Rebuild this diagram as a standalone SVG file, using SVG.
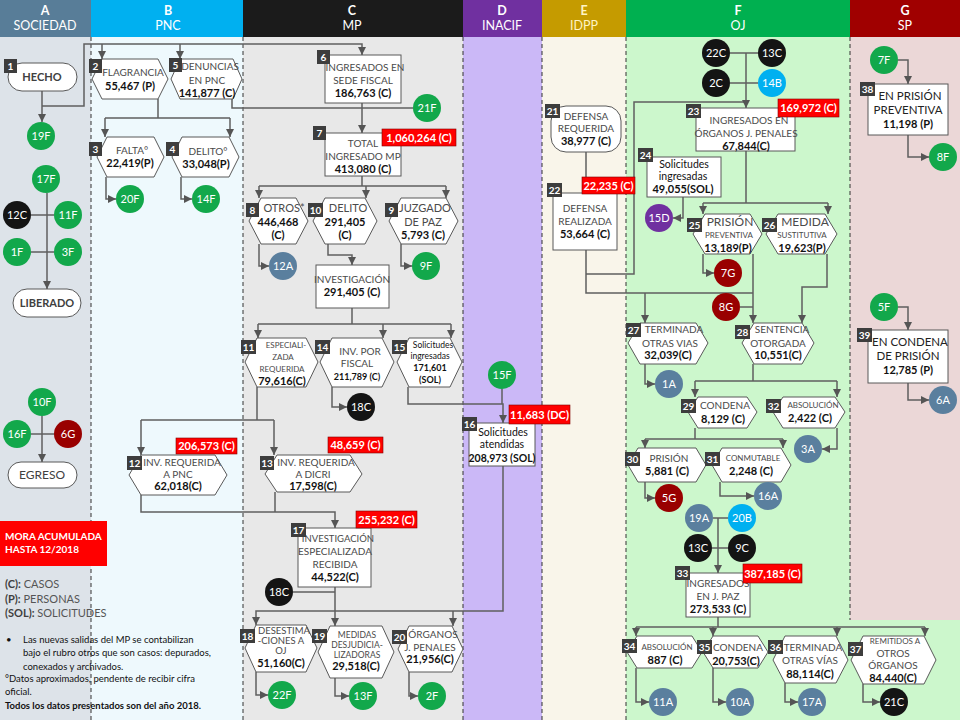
<svg xmlns="http://www.w3.org/2000/svg" width="960" height="720" viewBox="0 0 960 720">
<defs>
<marker id="a" viewBox="0 0 8 8" refX="8" refY="4" markerWidth="8" markerHeight="8" markerUnits="userSpaceOnUse" orient="auto"><path d="M0,0 L8,4 L0,8 z" fill="#555"/></marker>
<style>
text{font-family:Lato,"Liberation Sans",sans-serif}
.h{font-size:12.5px;fill:#fff;text-anchor:middle}
.hb{font-weight:bold}
.l{font-size:10px;fill:#4a4a4a;text-anchor:middle}
.s{font-size:8px}
.m{font-size:8.5px}
.g{font-size:12px}
.k{fill:#111}
.n{font-size:11px;font-weight:bold;fill:#111;text-anchor:middle}
.sh{fill:#fff;stroke:#595959;stroke-width:1}
.cn path{fill:none;stroke:#5f5f5f;stroke-width:1.5}
.ar{marker-end:url(#a)}
.bd rect{fill:#3d3d3d}
.bd text{font-size:10px;font-weight:bold;fill:#fff;text-anchor:middle}
.ci text{font-size:11px;fill:#fff;text-anchor:middle}
.gr{fill:#12a84b}.bk{fill:#141414}.bl{fill:#5a7f9e}.rd{fill:#990000}.cy{fill:#00b0f0}.pu{fill:#7030a0}
.rl rect{fill:#ff0000;stroke:#800000;stroke-width:0.6}
.rl text{font-size:11px;font-weight:bold;fill:#fff;text-anchor:middle}
.dl{stroke:#333;stroke-width:1;stroke-dasharray:4,3}
.lg{font-size:11px;fill:#555}
.ft{font-size:9.5px;fill:#111}
</style>
</defs>
<!-- lane backgrounds -->
<rect x="0" y="0" width="91" height="720" fill="#dde3e9"/>
<rect x="91" y="0" width="152" height="720" fill="#eef9fd"/>
<rect x="243" y="0" width="220" height="720" fill="#e8e8e8"/>
<rect x="463" y="0" width="79" height="720" fill="#cbb8f7"/>
<rect x="542" y="0" width="84" height="720" fill="#f9f5ea"/>
<rect x="626" y="0" width="334" height="720" fill="#ccf7cc"/>
<rect x="850" y="0" width="110" height="620" fill="#ebd7d7"/>
<!-- headers -->
<rect x="0" y="0" width="91" height="37" fill="#587d98"/>
<rect x="91" y="0" width="152" height="37" fill="#00b0f0"/>
<rect x="243" y="0" width="220" height="37" fill="#1b1b1b"/>
<rect x="463" y="0" width="79" height="37" fill="#7030a0"/>
<rect x="542" y="0" width="84" height="37" fill="#c59b00"/>
<rect x="626" y="0" width="224" height="37" fill="#00b050"/>
<rect x="850" y="0" width="110" height="37" fill="#a00000"/>
<g id="headers">
<text class="h hb" x="45" y="15">A</text><text class="h" x="45" y="30">SOCIEDAD</text>
<text class="h hb" x="168" y="15">B</text><text class="h" x="168" y="30">PNC</text>
<text class="h hb" x="352" y="15">C</text><text class="h" x="352" y="30">MP</text>
<text class="h hb" x="502" y="15">D</text><text class="h" x="502" y="30">INACIF</text>
<text class="h hb" x="584" y="15" style="fill:#fff4c4">E</text><text class="h" x="584" y="30" style="fill:#fff4c4">IDPP</text>
<text class="h hb" x="738" y="15">F</text><text class="h" x="738" y="30">OJ</text>
<text class="h hb" x="905" y="15">G</text><text class="h" x="905" y="30">SP</text>
</g>
<!-- dashed lane separators -->
<g>
<line class="dl" x1="91" y1="37" x2="91" y2="720"/>
<line class="dl" x1="243" y1="37" x2="243" y2="720"/>
<line class="dl" x1="463" y1="37" x2="463" y2="720"/>
<line class="dl" x1="542" y1="37" x2="542" y2="720"/>
<line class="dl" x1="626" y1="37" x2="626" y2="720"/>
<line class="dl" x1="850" y1="37" x2="850" y2="620"/>
</g>
<!-- connectors -->
<g id="connectors" class="cn">
<path class="ar" d="M42,91 V122"/>
<path class="ar" d="M42,106 H84 V44 H362 V55"/>
<path class="ar" d="M102,44 V59"/>
<path class="ar" d="M180,44 V59"/>
<path d="M158,99 V118 M105,118 H230"/>
<path class="ar" d="M105,118 V137"/>
<path class="ar" d="M230,118 V137"/>
<path class="ar" d="M106,177 V199 H116"/>
<path class="ar" d="M181,177 V199 H192"/>
<path d="M232,99 V108 H362 M413,108 H362"/>
<path class="ar" d="M362,103 V133"/>
<path d="M362,176 V186 M259,186 H446"/>
<path class="ar" d="M259,186 V198"/>
<path class="ar" d="M366,186 V198"/>
<path class="ar" d="M446,186 V198"/>
<path class="ar" d="M259,244 V266 H269"/>
<path class="ar" d="M401,244 V266 H412"/>
<path class="ar" d="M328,244 V255 H352 V265"/>
<path d="M352,308 V324 M258,324 H451"/>
<path class="ar" d="M258,324 V338"/>
<path class="ar" d="M383,324 V338"/>
<path class="ar" d="M451,324 V338"/>
<path class="ar" d="M332,387 V407 H347"/>
<path class="ar" d="M408,387 V404 H503 V423"/>
<path d="M502,389 V404"/>
<path d="M257,387 V420 M141,420 H274"/>
<path class="ar" d="M141,420 V455"/>
<path class="ar" d="M274,420 V455"/>
<path class="ar" d="M141,495 V512 H335 V528"/>
<path d="M275,492 V512"/>
<path class="ar" d="M335,587 V626"/>
<path d="M293,592 H335"/>
<path class="ar" d="M503,466 V611 H256 V625"/>
<path class="ar" d="M453,611 V626"/>
<path class="ar" d="M256,672 V695 H268"/>
<path class="ar" d="M335,678 V696 H349"/>
<path class="ar" d="M409,672 V696 H418"/>
<path d="M586,152 V193"/>
<path d="M586,250 V293 H753 M586,274 H634 V102 H746"/>
<path d="M730,53 H758 M730,83 H758"/>
<path class="ar" d="M746,53 V108"/>
<path d="M746,151 V203 M703,203 H828"/>
<path class="ar" d="M703,203 V214"/>
<path class="ar" d="M828,203 V214"/>
<path class="ar" d="M683,197 V218 H673"/>
<path class="ar" d="M703,254 V273 H714"/>
<path class="ar" d="M753,254 V323"/>
<path d="M740,307 H753"/>
<path class="ar" d="M645,293 V323"/>
<path class="ar" d="M827,254 V287 H802 V323"/>
<path class="ar" d="M645,364 V384 H655"/>
<path d="M753,364 V381 M695,381 H837"/>
<path class="ar" d="M695,381 V397"/>
<path class="ar" d="M837,381 V397"/>
<path class="ar" d="M837,428 V449 H822"/>
<path d="M695,428 V439 M645,439 H783"/>
<path class="ar" d="M645,439 V448"/>
<path class="ar" d="M783,439 V448"/>
<path class="ar" d="M645,482 V498 H655"/>
<path class="ar" d="M720,482 V496 H754"/>
<path d="M713,518 H728 M712,548 H728"/>
<path class="ar" d="M718,518 V573"/>
<path d="M718,617 V627 M636,627 H925"/>
<path class="ar" d="M636,627 V636"/>
<path class="ar" d="M713,627 V636"/>
<path class="ar" d="M837,627 V636"/>
<path class="ar" d="M925,627 V636"/>
<path class="ar" d="M636,668 V702 H649"/>
<path class="ar" d="M713,668 V702 H726"/>
<path class="ar" d="M785,683 V702 H798"/>
<path class="ar" d="M863,684 V702 H880"/>
<path class="ar" d="M898,60 H908 V84"/>
<path class="ar" d="M908,135 V157 H929"/>
<path class="ar" d="M898,307 H908 V330"/>
<path class="ar" d="M908,383 V400 H929"/>
<path class="ar" d="M47,193 V289"/>
<path d="M31,215 H54 M31,252 H54"/>
<path class="ar" d="M42,416 V462"/>
<path d="M31,434 H54"/>
</g>
<!-- nodes -->
<g id="n1"><rect class="sh" x="8" y="63" width="69" height="28" rx="14"/><text class="l hb" x="42" y="81" style="font-size:11px;fill:#404040">HECHO</text></g>
<g id="nLib"><rect class="sh" x="13" y="289" width="68" height="28" rx="14"/><text class="l hb" x="47" y="307" style="font-size:11px;fill:#404040">LIBERADO</text></g>
<g id="nEgr"><rect class="sh" x="8" y="462" width="69" height="26" rx="13"/><text class="l g" x="42" y="479" style="fill:#404040">EGRESO</text></g>
<g id="n2"><polygon class="sh" points="92,79 102,59 158,59 168,79 158,99 102,99"/><text class="l" x="133" y="76">FLAGRANCIA</text><text class="n" x="130" y="90">55,467 (P)</text></g>
<g id="n5"><polygon class="sh" points="171,79 180,59 233,59 242,79 233,99 180,99"/><text class="l" x="210" y="70">DENUNCIAS</text><text class="l" x="207" y="84">EN PNC</text><text class="n" x="207" y="97">141,877 (C)</text></g>
<g id="n3"><polygon class="sh" points="97,157 107,137 154,137 164,157 154,177 107,177"/><text class="l" x="132" y="154">FALTA°</text><text class="n" x="130" y="167">22,419(P)</text></g>
<g id="n4"><polygon class="sh" points="172,157 182,137 229,137 239,157 229,177 182,177"/><text class="l" x="208" y="155">DELITO°</text><text class="n" x="206" y="168">33,048(P)</text></g>
<g id="n6"><rect class="sh" x="325" y="55" width="76" height="48"/><text class="l" x="365" y="71">INGRESADOS EN</text><text class="l" x="363" y="84">SEDE FISCAL</text><text class="n" x="363" y="97">186,763 (C)</text></g>
<g id="n7"><rect class="sh" x="325" y="133" width="76" height="43"/><text class="l" x="363" y="147">TOTAL</text><text class="l" x="363" y="160">INGRESADO MP</text><text class="n" x="363" y="173">413,080 (C)</text></g>
<g id="n8"><polygon class="sh" points="249,221 261,198 296,198 308,221 296,244 261,244"/><text class="l" x="284" y="212" style="font-size:11px">OTROS*</text><text class="n" x="278" y="226">446,468</text><text class="n" x="278" y="239">(C)</text></g>
<g id="n10"><polygon class="sh" points="313,221 325,198 365,198 377,221 365,244 325,244"/><text class="l" x="348" y="212" style="font-size:11px">DELITO</text><text class="n" x="345" y="226">291,405</text><text class="n" x="345" y="239">(C)</text></g>
<g id="n9"><polygon class="sh" points="389,221 401,198 446,198 458,221 446,244 401,244"/><text class="l" x="425" y="212" style="font-size:11px">JUZGADO</text><text class="l" x="423" y="226" style="font-size:11px">DE PAZ</text><text class="n" x="423" y="239">5,793 (C)</text></g>
<g id="nInv"><rect class="sh" x="316" y="265" width="73" height="43"/><text class="l" x="352" y="283">INVESTIGACIÓN</text><text class="n" x="352" y="296">291,405 (C)</text></g>
<g id="n11"><polygon class="sh" points="245,362 257,338 306,338 318,362 306,387 257,387"/><text class="l s" x="286" y="348">ESPECIALI-</text><text class="l s" x="283" y="360">ZADA</text><text class="l s" x="282" y="372">REQUERIDA</text><text class="n" x="282" y="385">79,616(C)</text></g>
<g id="n14"><polygon class="sh" points="320,362 332,338 382,338 394,362 382,387 332,387"/><text class="l" x="360" y="355">INV.  POR</text><text class="l" x="357" y="367">FISCAL</text><text class="n" x="357" y="380" style="font-size:9px">211,789 (C)</text></g>
<g id="n15"><polygon class="sh" points="397,362 409,338 450,338 462,362 450,387 409,387"/><text class="l m k" x="433" y="348">Solicitudes</text><text class="l m k" x="430" y="359">ingresadas</text><text class="n" x="430" y="371" style="font-size:9px">171,601</text><text class="n" x="430" y="383" style="font-size:9px">(SOL)</text></g>
<g id="n12"><polygon class="sh" points="129,475 141,455 215,455 227,475 215,495 141,495"/><text class="l" x="182" y="466">INV. REQUERIDA</text><text class="l" x="178" y="478">A PNC</text><text class="n" x="178" y="490">62,018(C)</text></g>
<g id="n13"><polygon class="sh" points="265,474 277,455 350,455 362,474 350,492 277,492"/><text class="l" x="316" y="466">INV. REQUERIDA</text><text class="l" x="313" y="478">A DICRI</text><text class="n" x="313" y="490">17,598(C)</text></g>
<g id="n17"><rect class="sh" x="298" y="528" width="73" height="59"/><text class="l" x="338" y="542" style="font-size:9.5px">INVESTIGACIÓN</text><text class="l" x="335" y="555">ESPECIALIZADA</text><text class="l" x="335" y="568">RECIBIDA</text><text class="n" x="335" y="581">44,522(C)</text></g>
<g id="n16"><rect class="sh" x="469" y="423" width="66" height="43"/><text class="l k" x="503" y="436" style="font-size:10.5px">Solicitudes</text><text class="l k" x="502" y="448" style="font-size:10.5px">atendidas</text><text class="n" x="502" y="462" style="font-size:10.5px">208,973 (SOL)</text></g>
<g id="n18"><polygon class="sh" points="245,648 256,625 306,625 317,648 306,672 256,672"/><text class="l" x="284" y="634" style="font-size:9.5px">DESESTIMA</text><text class="l" x="281" y="644" style="font-size:9.5px">-CIONES A</text><text class="l" x="281" y="654" style="font-size:9.5px">OJ</text><text class="n" x="281" y="667">51,160(C)</text></g>
<g id="n19"><polygon class="sh" points="318,652 330,626 382,626 394,652 382,678 330,678"/><text class="l m" x="357" y="638">MEDIDAS</text><text class="l m" x="357" y="648">DESJUDICIA-</text><text class="l m" x="357" y="658">LIZADORAS</text><text class="n" x="356" y="670">29,518(C)</text></g>
<g id="n20"><polygon class="sh" points="398,649 409,626 452,626 463,649 452,672 409,672"/><text class="l" x="433" y="638">ÓRGANOS</text><text class="l" x="430" y="651">J. PENALES</text><text class="n" x="430" y="663">21,956(C)</text></g>
<g id="n21"><rect class="sh" x="551" y="106" width="70" height="46" rx="15"/><text class="l" x="586" y="120">DEFENSA</text><text class="l" x="586" y="132">REQUERIDA</text><text class="n" x="586" y="145">38,977 (C)</text></g>
<g id="n22"><rect class="sh" x="553" y="193" width="64" height="57"/><text class="l" x="585" y="212">DEFENSA</text><text class="l" x="585" y="225">REALIZADA</text><text class="n" x="585" y="238">53,664 (C)</text></g>
<g id="n23"><rect class="sh" x="696" y="108" width="99" height="43"/><text class="l" x="749" y="124">INGRESADOS EN</text><text class="l" x="746" y="137">ÓRGANOS J. PENALES</text><text class="n" x="746" y="150">67,844(C)</text></g>
<g id="n24"><rect class="sh" x="647" y="157" width="74" height="40"/><text class="l k" x="684" y="168" style="font-size:10.5px">Solicitudes</text><text class="l k" x="683" y="180" style="font-size:10.5px">ingresadas</text><text class="n" x="683" y="193">49,055(SOL)</text></g>
<g id="n25"><polygon class="sh" points="693,234 705,214 750,214 762,234 750,254 705,254"/><text class="l g" x="730" y="226">PRISIÓN</text><text class="l s" x="729" y="238">PREVENTIVA</text><text class="n" x="728" y="252">13,189(P)</text></g>
<g id="n26"><polygon class="sh" points="766,234 778,214 825,214 837,234 825,254 778,254"/><text class="l g" x="805" y="226">MEDIDA</text><text class="l s" x="802" y="238">SUSTITUTIVA</text><text class="n" x="802" y="252">19,623(P)</text></g>
<g id="n27"><polygon class="sh" points="628,343 640,323 696,323 708,343 696,364 640,364"/><text class="l" x="674" y="333">TERMINADA</text><text class="l" x="670" y="347">OTRAS VIAS</text><text class="n" x="668" y="359">32,039(C)</text></g>
<g id="n28"><polygon class="sh" points="742,343 754,323 802,323 814,343 802,364 754,364"/><text class="l" x="782" y="333">SENTENCIA</text><text class="l" x="778" y="347">OTORGADA</text><text class="n" x="778" y="359">10,551(C)</text></g>
<g id="n29"><polygon class="sh" points="688,412 698,397 747,397 757,412 747,428 698,428"/><text class="l" x="725" y="409">CONDENA</text><text class="n" x="723" y="423">8,129 (C)</text></g>
<g id="n32"><polygon class="sh" points="773,412 783,397 835,397 845,412 835,428 783,428"/><text class="l s" x="813" y="408">ABSOLUCIÓN</text><text class="n" x="810" y="422">2,422 (C)</text></g>
<g id="n30"><polygon class="sh" points="628,465 638,448 696,448 706,465 696,482 638,482"/><text class="l" x="669" y="462">PRISIÓN</text><text class="n" x="667" y="475">5,881 (C)</text></g>
<g id="n31"><polygon class="sh" points="712,465 722,448 781,448 791,465 781,482 722,482"/><text class="l s" x="753" y="461">CONMUTABLE</text><text class="n" x="751" y="475">2,248 (C)</text></g>
<g id="n33"><rect class="sh" x="686" y="573" width="64" height="44"/><text class="l" x="718" y="587">INGRESADOS</text><text class="l" x="718" y="600">EN J. PAZ</text><text class="n" x="718" y="613">273,533 (C)</text></g>
<g id="n34"><polygon class="sh" points="627,652 637,636 692,636 702,652 692,668 637,668"/><text class="l s" x="667" y="650">ABSOLUCIÓN</text><text class="n" x="665" y="664">887 (C)</text></g>
<g id="n35"><polygon class="sh" points="703,652 713,636 758,636 768,652 758,668 713,668"/><text class="l" x="738" y="651">CONDENA</text><text class="n" x="736" y="665">20,753(C)</text></g>
<g id="n36"><polygon class="sh" points="773,660 785,636 836,636 848,660 836,683 785,683"/><text class="l" x="813" y="651">TERMINADA</text><text class="l" x="810" y="664">OTRAS VÍAS</text><text class="n" x="810" y="678">88,114(C)</text></g>
<g id="n37"><polygon class="sh" points="851,660 863,636 924,636 936,660 924,684 863,684"/><text class="l s" x="895" y="644">REMITIDOS A</text><text class="l" x="893" y="657">OTROS</text><text class="l" x="893" y="669">ÓRGANOS</text><text class="n" x="893" y="682">84,440(C)</text></g>
<g id="n38"><rect class="sh" x="868" y="84" width="80" height="51"/><text class="l" x="910" y="100" style="font-size:11.5px;fill:#222">EN PRISIÓN</text><text class="l" x="908" y="114" style="font-size:11.5px;fill:#222">PREVENTIVA</text><text class="n" x="908" y="128">11,198 (P)</text></g>
<g id="n39"><rect class="sh" x="868" y="330" width="80" height="53"/><text class="l" x="910" y="346" style="font-size:11.5px;fill:#222">EN CONDENA</text><text class="l" x="908" y="360" style="font-size:11.5px;fill:#222">DE PRISIÓN</text><text class="n" x="908" y="374">12,785 (P)</text></g>
<!-- circles -->
<g id="circles" class="ci">
<g id="c19F"><circle class="gr" cx="41" cy="136" r="14"/><text x="41" y="140">19F</text></g>
<g id="c17F"><circle class="gr" cx="46" cy="179" r="14"/><text x="46" y="183">17F</text></g>
<g id="c12C"><circle class="bk" cx="17" cy="215" r="14"/><text x="17" y="219">12C</text></g>
<g id="c11F"><circle class="gr" cx="68" cy="215" r="14"/><text x="68" y="219">11F</text></g>
<g id="c1F"><circle class="gr" cx="17" cy="252" r="14"/><text x="17" y="256">1F</text></g>
<g id="c3F"><circle class="gr" cx="68" cy="252" r="14"/><text x="68" y="256">3F</text></g>
<g id="c10F"><circle class="gr" cx="42" cy="402" r="14"/><text x="42" y="406">10F</text></g>
<g id="c16F"><circle class="gr" cx="17" cy="434" r="14"/><text x="17" y="438">16F</text></g>
<g id="c6G"><circle class="rd" cx="68" cy="434" r="14"/><text x="68" y="438">6G</text></g>
<g id="c20F"><circle class="gr" cx="130" cy="199" r="14"/><text x="130" y="203">20F</text></g>
<g id="c14F"><circle class="gr" cx="206" cy="199" r="14"/><text x="206" y="203">14F</text></g>
<g id="c21F"><circle class="gr" cx="427" cy="108" r="14"/><text x="427" y="112">21F</text></g>
<g id="c12A"><circle class="bl" cx="283" cy="266" r="14"/><text x="283" y="270">12A</text></g>
<g id="c9F"><circle class="gr" cx="426" cy="266" r="14"/><text x="426" y="270">9F</text></g>
<g id="c18Ca"><circle class="bk" cx="361" cy="407" r="14"/><text x="361" y="411">18C</text></g>
<g id="c15F"><circle class="gr" cx="502" cy="375" r="14"/><text x="502" y="379">15F</text></g>
<g id="c18Cb"><circle class="bk" cx="279" cy="592" r="14"/><text x="279" y="596">18C</text></g>
<g id="c22F"><circle class="gr" cx="282" cy="695" r="14"/><text x="282" y="699">22F</text></g>
<g id="c13F"><circle class="gr" cx="363" cy="696" r="14"/><text x="363" y="700">13F</text></g>
<g id="c2F"><circle class="gr" cx="432" cy="696" r="14"/><text x="432" y="700">2F</text></g>
<g id="c22C"><circle class="bk" cx="716" cy="53" r="14"/><text x="716" y="57">22C</text></g>
<g id="c13Ca"><circle class="bk" cx="772" cy="53" r="14"/><text x="772" y="57">13C</text></g>
<g id="c2C"><circle class="bk" cx="716" cy="83" r="14"/><text x="716" y="87">2C</text></g>
<g id="c14B"><circle class="cy" cx="772" cy="83" r="14"/><text x="772" y="87">14B</text></g>
<g id="c15D"><circle class="pu" cx="659" cy="218" r="14"/><text x="659" y="222">15D</text></g>
<g id="c7G"><circle class="rd" cx="728" cy="273" r="14"/><text x="728" y="277">7G</text></g>
<g id="c8G"><circle class="rd" cx="726" cy="307" r="14"/><text x="726" y="311">8G</text></g>
<g id="c1A"><circle class="bl" cx="669" cy="384" r="14"/><text x="669" y="388">1A</text></g>
<g id="c3A"><circle class="bl" cx="808" cy="449" r="14"/><text x="808" y="453">3A</text></g>
<g id="c5G"><circle class="rd" cx="669" cy="498" r="14"/><text x="669" y="502">5G</text></g>
<g id="c16A"><circle class="bl" cx="768" cy="496" r="14"/><text x="768" y="500">16A</text></g>
<g id="c19A"><circle class="bl" cx="699" cy="518" r="14"/><text x="699" y="522">19A</text></g>
<g id="c20B"><circle class="cy" cx="742" cy="518" r="14"/><text x="742" y="522">20B</text></g>
<g id="c13Cb"><circle class="bk" cx="698" cy="548" r="14"/><text x="698" y="552">13C</text></g>
<g id="c9C"><circle class="bk" cx="742" cy="548" r="14"/><text x="742" y="552">9C</text></g>
<g id="c11A"><circle class="bl" cx="663" cy="702" r="14"/><text x="663" y="706">11A</text></g>
<g id="c10A"><circle class="bl" cx="740" cy="702" r="14"/><text x="740" y="706">10A</text></g>
<g id="c17A"><circle class="bl" cx="812" cy="702" r="14"/><text x="812" y="706">17A</text></g>
<g id="c21C"><circle class="bk" cx="894" cy="702" r="14"/><text x="894" y="706">21C</text></g>
<g id="c7F"><circle class="gr" cx="884" cy="60" r="14"/><text x="884" y="64">7F</text></g>
<g id="c8F"><circle class="gr" cx="943" cy="157" r="14"/><text x="943" y="161">8F</text></g>
<g id="c5F"><circle class="gr" cx="884" cy="307" r="14"/><text x="884" y="311">5F</text></g>
<g id="c6A"><circle class="bl" cx="943" cy="400" r="14"/><text x="943" y="404">6A</text></g>
</g>
<!-- red accumulated labels -->
<g id="redlabels" class="rl">
<rect x="382" y="129" width="74" height="17"/><text x="419" y="141.5">1,060,264 (C)</text>
<rect x="582" y="177" width="53" height="17"/><text x="608.5" y="189.5">22,235 (C)</text>
<rect x="778" y="99" width="61" height="18"/><text x="808.5" y="112">169,972 (C)</text>
<rect x="176" y="438" width="61" height="16"/><text x="206.5" y="450">206,573 (C)</text>
<rect x="328" y="437" width="55" height="16"/><text x="355.5" y="449">48,659 (C)</text>
<rect x="356" y="511" width="61" height="17"/><text x="386.5" y="523.5">255,232 (C)</text>
<rect x="509" y="405" width="61" height="19"/><text x="539.5" y="418.5">11,683 (DC)</text>
<rect x="743" y="564" width="59" height="19"/><text x="772.5" y="577.5">387,185 (C)</text>
</g>
<!-- number badges -->
<g id="badges" class="bd">
<rect x="4" y="59" width="13" height="14"/><text x="10.5" y="70">1</text>
<rect x="89" y="59" width="13" height="14"/><text x="95.5" y="70">2</text>
<rect x="169" y="58" width="13" height="14"/><text x="175.5" y="69">5</text>
<rect x="89" y="142" width="13" height="14"/><text x="95.5" y="153">3</text>
<rect x="166" y="142" width="13" height="14"/><text x="172.5" y="153">4</text>
<rect x="317" y="50" width="13" height="14"/><text x="323.5" y="61">6</text>
<rect x="313" y="126" width="13" height="14"/><text x="319.5" y="137">7</text>
<rect x="246" y="203" width="13" height="14"/><text x="252.5" y="214">8</text>
<rect x="308" y="203" width="15" height="14"/><text x="315.5" y="214">10</text>
<rect x="385" y="203" width="13" height="14"/><text x="391.5" y="214">9</text>
<rect x="241" y="340" width="15" height="14"/><text x="248.5" y="351">11</text>
<rect x="315" y="340" width="15" height="14"/><text x="322.5" y="351">14</text>
<rect x="392" y="340" width="15" height="14"/><text x="399.5" y="351">15</text>
<rect x="127" y="456" width="15" height="14"/><text x="134.5" y="467">12</text>
<rect x="260" y="456" width="14" height="14"/><text x="267" y="467">13</text>
<rect x="291" y="523" width="15" height="14"/><text x="298.5" y="534">17</text>
<rect x="462" y="417" width="15" height="14"/><text x="469.5" y="428">16</text>
<rect x="240" y="629" width="15" height="14"/><text x="247.5" y="640">18</text>
<rect x="312" y="629" width="15" height="14"/><text x="319.5" y="640">19</text>
<rect x="392" y="630" width="15" height="14"/><text x="399.5" y="641">20</text>
<rect x="545" y="104" width="15" height="14"/><text x="552.5" y="115">21</text>
<rect x="547" y="183" width="15" height="14"/><text x="554.5" y="194">22</text>
<rect x="686" y="104" width="15" height="14"/><text x="693.5" y="115">23</text>
<rect x="638" y="148" width="15" height="14"/><text x="645.5" y="159">24</text>
<rect x="687" y="218" width="15" height="14"/><text x="694.5" y="229">25</text>
<rect x="762" y="218" width="15" height="14"/><text x="769.5" y="229">26</text>
<rect x="626" y="323" width="15" height="14"/><text x="633.5" y="334">27</text>
<rect x="735" y="325" width="15" height="14"/><text x="742.5" y="336">28</text>
<rect x="681" y="399" width="15" height="14"/><text x="688.5" y="410">29</text>
<rect x="766" y="399" width="15" height="14"/><text x="773.5" y="410">32</text>
<rect x="625" y="452" width="15" height="14"/><text x="632.5" y="463">30</text>
<rect x="705" y="452" width="15" height="14"/><text x="712.5" y="463">31</text>
<rect x="675" y="566" width="15" height="14"/><text x="682.5" y="577">33</text>
<rect x="622" y="639" width="15" height="14"/><text x="629.5" y="650">34</text>
<rect x="697" y="640" width="15" height="14"/><text x="704.5" y="651">35</text>
<rect x="768" y="640" width="15" height="14"/><text x="775.5" y="651">36</text>
<rect x="848" y="642" width="15" height="14"/><text x="855.5" y="653">37</text>
<rect x="860" y="82" width="15" height="14"/><text x="867.5" y="93">38</text>
<rect x="857" y="328" width="15" height="14"/><text x="864.5" y="339">39</text>
</g>
<!-- legend -->
<g id="legend">
<rect x="0" y="521" width="107" height="45" fill="#ff0000"/>
<text x="5" y="540" style="font-size:10px;font-weight:bold;fill:#fff">MORA ACUMULADA</text>
<text x="5" y="553" style="font-size:10px;font-weight:bold;fill:#fff">HASTA 12/2018</text>
<text class="lg" x="5" y="588"><tspan font-weight="bold" fill="#404040">(C):</tspan> CASOS</text>
<text class="lg" x="5" y="603"><tspan font-weight="bold" fill="#404040">(P):</tspan> PERSONAS</text>
<text class="lg" x="5" y="617"><tspan font-weight="bold" fill="#404040">(SOL):</tspan> SOLICITUDES</text>
<text class="ft" x="6" y="643">•</text>
<text class="ft" x="23" y="643">Las nuevas salidas del MP se contabilizan</text>
<text class="ft" x="23" y="656">bajo el rubro otros que son casos: depurados,</text>
<text class="ft" x="23" y="670">conexados y archivados.</text>
<text class="ft" x="5" y="682">°Datos aproximados, pendente de recibir cifra</text>
<text class="ft" x="5" y="695">oficial.</text>
<text class="ft" x="5" y="709" font-weight="bold">Todos los datos presentados son del año 2018.</text>
</g>
</svg>
